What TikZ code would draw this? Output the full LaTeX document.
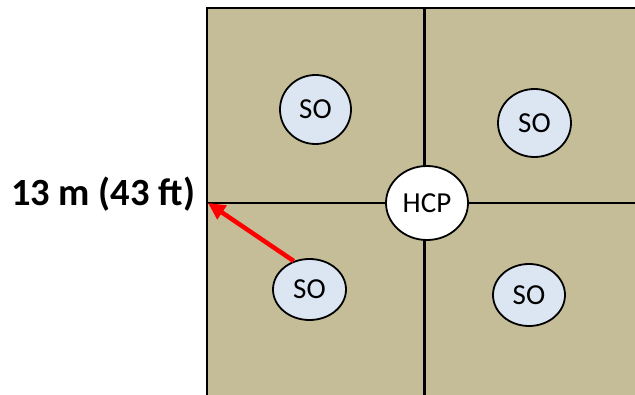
\documentclass[tikz,border=0pt]{standalone}
\usepackage{fontspec}
\setmainfont{Carlito}
\usetikzlibrary{shapes.geometric,arrows.meta}
\definecolor{floortan}{HTML}{C4BD97}
\definecolor{soblue}{HTML}{DCE6F2}
\begin{document}
\begin{tikzpicture}[x=1pt,y=-1pt,
  site/.style={ellipse,draw=black,line width=1.8pt,inner sep=0pt,
    font=\fontsize{29}{33}\selectfont},
  sonode/.style={site,fill=soblue},
  hcpnode/.style={site,fill=white},
  gridline/.style={draw=black,line width=2.5pt},
  rangearrow/.style={draw=red,line width=4.5pt,
    -{Triangle[length=17pt,width=16pt]}},
  dimlabel/.style={anchor=base,inner sep=0pt,
    font=\bfseries\fontsize{38.5}{44}\selectfont}]
\useasboundingbox (0,0) rectangle (635,395);
% floor area
\fill[floortan] (207,8) rectangle (650,410);
\draw[line width=2pt] (207,410) -- (207,8) -- (650,8);
% quadrant dividers
\draw[gridline] (207,203) -- (650,203);
\draw[gridline,line width=3pt] (424,8) -- (424,410);
% devices
\node[hcpnode,minimum width=82pt,minimum height=74pt] (hcp) at (427,203) {HCP};
\node[sonode,minimum width=71pt,minimum height=69pt] (so1) at (315.5,109.5) {SO};
\node[sonode,minimum width=73pt,minimum height=68pt] (so2) at (534.5,123) {SO};
\node[sonode,minimum width=73pt,minimum height=61pt] (so3) at (309.5,289.5) {SO};
\node[sonode,minimum width=72pt,minimum height=62pt] (so4) at (529,295) {SO};
% range
\coordinate (tip) at (208,203);
\draw[rangearrow] (so3.119) -- (tip);
\node[dimlabel] (range) at (103,206) {13 m (43 ft)};
\end{tikzpicture}
\end{document}
